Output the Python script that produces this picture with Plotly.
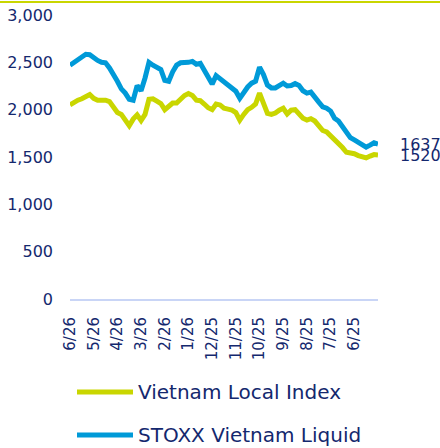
import plotly.graph_objects as go

# ---- data ----
tick_labels = ["6/26", "5/26", "4/26", "3/26", "2/26", "1/26", "12/25",
               "11/25", "10/25", "9/25", "8/25", "7/25", "6/25"]
tick_positions = list(range(len(tick_labels)))

steps_per_month = 6
local_index = [2050, 2080, 2100, 2115, 2135, 2160, 2120, 2100, 2100, 2100,
               2085, 2020, 1970, 1950, 1890, 1830, 1900, 1945, 1885, 1950,
               2110, 2115, 2090, 2065, 2000, 2040, 2070, 2070, 2110, 2150,
               2170, 2150, 2100, 2095, 2060, 2020, 2000, 2060, 2050, 2015,
               2005, 1995, 1970, 1890, 1950, 2000, 2025, 2060, 2175, 2080,
               1960, 1950, 1965, 1995, 2015, 1955, 1995, 2000, 1960, 1910,
               1890, 1905, 1880, 1830, 1780, 1765, 1725, 1690, 1650, 1600,
               1550, 1545, 1535, 1515, 1500, 1490, 1510, 1525, 1520]
stoxx_liquid = [2470, 2495, 2520, 2550, 2585, 2580, 2545, 2520, 2500, 2495,
                2440, 2380, 2300, 2220, 2175, 2110, 2100, 2255, 2200, 2335,
                2500, 2470, 2450, 2425, 2310, 2300, 2400, 2470, 2495, 2495,
                2500, 2510, 2480, 2490, 2420, 2350, 2270, 2360, 2330, 2300,
                2270, 2240, 2195, 2120, 2185, 2240, 2280, 2300, 2450, 2370,
                2260, 2230, 2230, 2260, 2280, 2250, 2255, 2275, 2255, 2200,
                2175, 2185, 2140, 2080, 2030, 2015, 1985, 1910, 1880, 1820,
                1755, 1705, 1680, 1655, 1620, 1605, 1625, 1650, 1637]
series_names = ["Vietnam Local Index", "STOXX Vietnam Liquid"]
end_labels = ["1520", "1637"]

x_vals = [i / steps_per_month for i in range(len(local_index))]

# ---- style ----
YELLOW = "#c9d600"
BLUE = "#009ad8"
NAVY = "#14286e"
AXIS = "#c9d5f6"
FONT = "DejaVu Sans"

W, H = 440, 448
ML, MR, MT, MB = 70, 62, 15, 149
PW, PH = W - ML - MR, H - MT - MB


def px_x(p):
    return (p - ML) / PW


def px_y(p):
    return (H - MB - p) / PH


fig = go.Figure()
for name, vals, col in [(series_names[0], local_index, YELLOW),
                        (series_names[1], stoxx_liquid, BLUE)]:
    fig.add_trace(go.Scatter(x=x_vals, y=vals, mode="lines", name=name,
                             line=dict(color=col, width=5),
                             showlegend=False, cliponaxis=False))

annotations = []
for vals, lab in [(local_index, end_labels[0]), (stoxx_liquid, end_labels[1])]:
    annotations.append(dict(x=x_vals[-1], y=vals[-1], text=lab, showarrow=False,
                            xanchor="left", yanchor="middle", xshift=20,
                            font=dict(family=FONT, size=16, color=NAVY)))

shapes = [dict(type="line", xref="paper", yref="paper",
               x0=px_x(0), x1=px_x(W), y0=px_y(2), y1=px_y(2),
               line=dict(color=YELLOW, width=2))]

legend_rows = [(series_names[0], YELLOW, 392), (series_names[1], BLUE, 435)]
for name, col, ypx in legend_rows:
    shapes.append(dict(type="line", xref="paper", yref="paper",
                       x0=px_x(77), x1=px_x(133), y0=px_y(ypx), y1=px_y(ypx),
                       line=dict(color=col, width=5)))
    annotations.append(dict(xref="paper", yref="paper", x=px_x(136), y=px_y(ypx),
                            text=name, showarrow=False, xanchor="left",
                            yanchor="middle",
                            font=dict(family=FONT, size=20, color=NAVY)))

fig.update_layout(
    template="none",
    width=W, height=H,
    margin=dict(l=ML, r=MR, t=MT, b=MB, pad=0, autoexpand=False),
    paper_bgcolor="white", plot_bgcolor="white",
    font=dict(family=FONT, color=NAVY),
    showlegend=False,
    annotations=annotations,
    shapes=shapes,
    xaxis=dict(range=[0, 13], tickvals=tick_positions, ticktext=tick_labels,
               tickangle=-90, showgrid=False, zeroline=False, automargin=False,
               showline=True, linecolor=AXIS, linewidth=2,
               ticks="", ticklabelstandoff=10,
               tickfont=dict(family=FONT, size=15, color=NAVY)),
    yaxis=dict(range=[0, 3000], tickvals=[0, 500, 1000, 1500, 2000, 2500, 3000],
               tickformat=",", showgrid=False, zeroline=False, showline=False,
               ticks="", ticklabelstandoff=16, automargin=False,
               tickfont=dict(family=FONT, size=16, color=NAVY)),
)

fig.write_html(
    "out.html",
    config={"displayModeBar": False, "staticPlot": True},
    post_script="document.body.style.margin='0';document.body.style.overflow='hidden';",
)
